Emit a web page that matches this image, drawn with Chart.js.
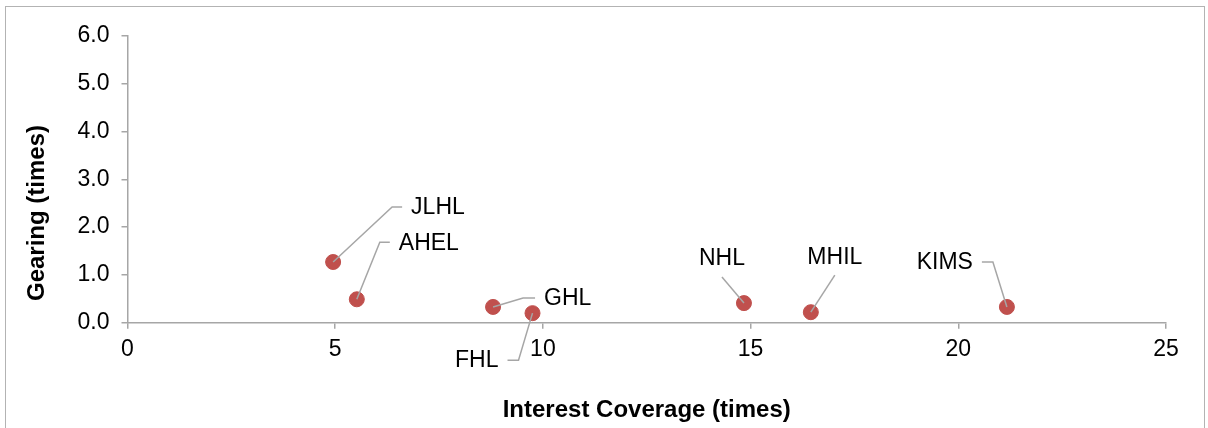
<!DOCTYPE html>
<html>
<head>
<meta charset="utf-8">
<script src="https://cdn.jsdelivr.net/npm/chart.js@4"></script>
<style>
  html, body { margin: 0; padding: 0; background: #fff; overflow: hidden; }
  #wrap { position: relative; width: 1208px; height: 428px; }
</style>
</head>
<body>
<div id="wrap"><canvas id="scatterChart" width="1208" height="428"></canvas></div>
<script>
// Données
const companies = ["JLHL", "AHEL", "GHL", "FHL", "NHL", "MHIL", "KIMS"];
const interestCoverage = [4.95, 5.52, 8.80, 9.75, 14.84, 16.45, 21.17];
const gearing = [1.27, 0.49, 0.33, 0.20, 0.41, 0.22, 0.33];

const xTicks = [0, 5, 10, 15, 20, 25];
const yTicks = [0, 1, 2, 3, 4, 5, 6];

// Traits de rappel des étiquettes : [dx coude, dy coude, longueur horizontale]
const labelLeaders = [
    [59, -55, 10],
    [23, -57, 10],
    [30, -9, 12],
    [-14, 47, -11],
    [-22, -26, 0],
    [24, -37, 0],
    [-14, -45, -11]
];

const points = interestCoverage.map((x, i) => ({ x: x, y: gearing[i] }));
const fontFamily = '"Liberation Sans", Arial, sans-serif';

// Cadre gris + titre vertical (décalé vers le bas comme dans l'original)
const framePlugin = {
    id: 'frame',
    beforeDraw: (chart) => {
        const ctx = chart.ctx;
        ctx.save();
        ctx.fillStyle = '#fff';
        ctx.fillRect(0, 0, chart.width, chart.height);
        ctx.strokeStyle = '#b3b3b3';
        ctx.lineWidth = 1;
        ctx.strokeRect(5.5, 6.5, 1199, 500);
        ctx.restore();
    },
    afterDraw: (chart) => {
        const ctx = chart.ctx;
        ctx.save();
        ctx.translate(37, 213);
        ctx.rotate(-Math.PI / 2);
        ctx.font = 'bold 24px ' + fontFamily;
        ctx.fillStyle = '#000';
        ctx.textAlign = 'center';
        ctx.textBaseline = 'middle';
        ctx.fillText('Gearing (times)', 0, 0);
        ctx.restore();
    }
};

// Étiquettes avec traits de rappel
const leaderLabelPlugin = {
    id: 'leaderLabels',
    afterDatasetsDraw: (chart) => {
        const ctx = chart.ctx;
        const meta = chart.getDatasetMeta(0);
        ctx.save();
        ctx.font = '23px ' + fontFamily;
        ctx.fillStyle = '#000';
        ctx.strokeStyle = '#a6a6a6';
        ctx.lineWidth = 1.5;
        meta.data.forEach((pt, i) => {
            const [dx, dy, tail] = labelLeaders[i];
            const ex = pt.x + dx, ey = pt.y + dy;
            ctx.beginPath();
            ctx.moveTo(pt.x, pt.y);
            ctx.lineTo(ex, ey);
            ctx.lineTo(ex + tail, ey);
            ctx.stroke();
            ctx.textBaseline = 'middle';
            if (tail > 0) {
                ctx.textAlign = 'left';
                ctx.fillText(companies[i], ex + tail + 9, ey + 1);
            } else if (tail < 0) {
                ctx.textAlign = 'right';
                ctx.fillText(companies[i], ex + tail - 9, ey + 1);
            } else {
                ctx.textAlign = 'center';
                ctx.fillText(companies[i], ex, ey - 18);
            }
        });
        ctx.restore();
    }
};

const axisColor = '#a6a6a6';
const ctx = document.getElementById('scatterChart').getContext('2d');
new Chart(ctx, {
    type: 'scatter',
    data: {
        datasets: [{
            label: 'Gearing',
            data: points,
            backgroundColor: '#c0504d',
            borderColor: '#c0504d',
            pointRadius: 7.5,
            pointHoverRadius: 7.5
        }]
    },
    options: {
        responsive: false,
        animation: false,
        layout: { padding: { top: 36, right: 42, bottom: 0, left: 0 } },
        plugins: {
            legend: { display: false },
            tooltip: { enabled: false }
        },
        scales: {
            x: {
                type: 'linear',
                min: 0,
                max: 25,
                afterBuildTicks: (scale) => { scale.ticks = xTicks.map(v => ({ value: v })); },
                afterFit: (scale) => { scale.height = 105.3; },
                ticks: {
                    color: '#000',
                    font: { family: fontFamily, size: 23 },
                    padding: 7,
                    maxRotation: 0
                },
                grid: { drawOnChartArea: false, drawTicks: true, tickLength: 6, color: axisColor, lineWidth: 1.5 },
                border: { color: axisColor, width: 1.5 },
                title: {
                    display: true,
                    text: 'Interest Coverage (times)',
                    color: '#000',
                    font: { family: fontFamily, size: 24, weight: 'bold' },
                    padding: { top: 0, bottom: 3 }
                }
            },
            y: {
                type: 'linear',
                min: 0,
                max: 6,
                afterBuildTicks: (scale) => { scale.ticks = yTicks.map(v => ({ value: v })); },
                afterFit: (scale) => { scale.width = 127.5; },
                ticks: {
                    color: '#000',
                    font: { family: fontFamily, size: 23 },
                    padding: 12,
                    callback: (v) => Number(v).toFixed(1)
                },
                grid: { drawOnChartArea: false, drawTicks: true, tickLength: 6, color: axisColor, lineWidth: 1.5 },
                border: { color: axisColor, width: 1.5 },
                title: { display: false }
            }
        }
    },
    plugins: [framePlugin, leaderLabelPlugin]
});
</script>
</body>
</html>
